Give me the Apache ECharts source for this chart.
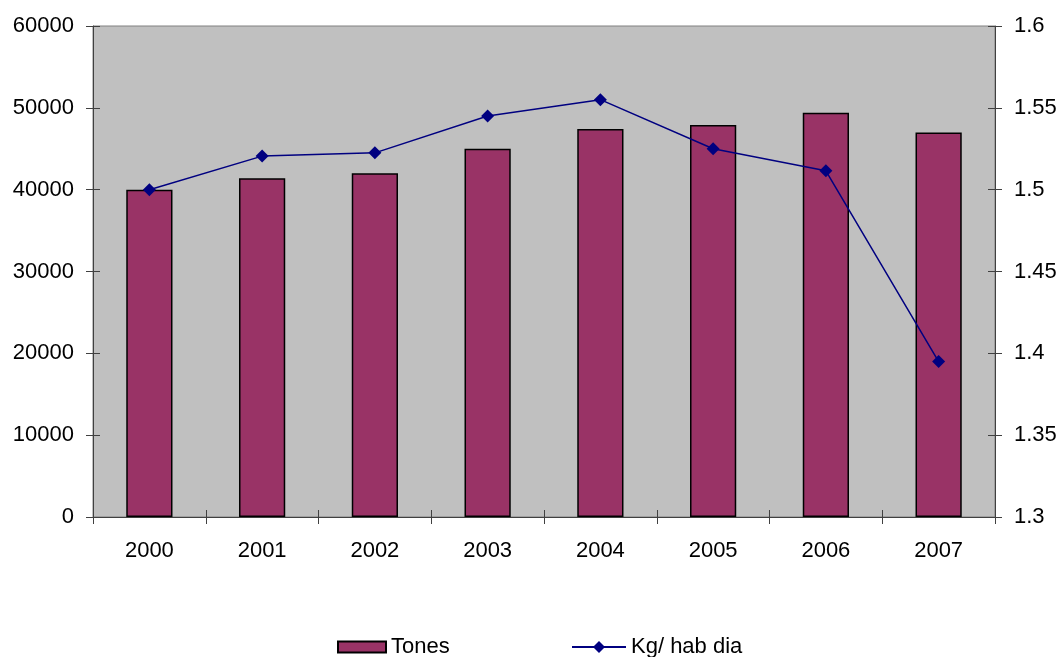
<!DOCTYPE html>
<html>
<head>
<meta charset="utf-8">
<script src="https://cdn.jsdelivr.net/npm/echarts@6/dist/echarts.min.js"></script>
<style>
  html, body { margin: 0; padding: 0; background: #ffffff; }
  #chart { width: 1061px; height: 657px; }
</style>
</head>
<body>
<div id="chart"></div>
<script>
// Yearly waste totals (tones) and per-capita daily amount (kg/hab/dia)
const years = ['2000', '2001', '2002', '2003', '2004', '2005', '2006', '2007'];
const tones = [40000, 41400, 42000, 45000, 47400, 47900, 49400, 47000];
const kgHabDia = [1.500, 1.5205, 1.5225, 1.545, 1.555, 1.525, 1.5115, 1.395];

const FONT = '"Liberation Sans", Arial, sans-serif';
const AXIS_COLOR = '#404040';
const labelStyle = { color: '#000', fontSize: 22, fontFamily: FONT };

const chart = echarts.init(document.getElementById('chart'), null, { renderer: 'canvas' });

chart.setOption({
  animation: false,
  backgroundColor: '#ffffff',
  textStyle: { fontFamily: FONT },
  grid: {
    left: 93, right: 66, top: 26, bottom: 140,
    show: true, backgroundColor: '#c0c0c0', borderColor: '#808080', borderWidth: 1
  },
  legend: [
    {
      data: [{ name: 'Tones', icon: 'rect' }], left: 332, top: 631,
      itemWidth: 48, itemHeight: 11, itemGap: 7,
      textStyle: { color: '#000', fontSize: 22, fontFamily: FONT }
    },
    {
      data: ['Kg/ hab dia'], left: 566, top: 631,
      itemWidth: 54, itemHeight: 15, itemGap: 2,
      textStyle: { color: '#000', fontSize: 22, fontFamily: FONT }
    }
  ],
  xAxis: [
    {
      type: 'category', data: years, position: 'bottom',
      boundaryGap: true,
      axisLine: { show: true, lineStyle: { color: AXIS_COLOR, width: 1 } },
      axisTick: { show: true, length: 7, lineStyle: { color: AXIS_COLOR } },
      axisLabel: Object.assign({ margin: 23 }, labelStyle),
      splitLine: { show: false }
    },
    {
      type: 'category', data: years, position: 'bottom',
      boundaryGap: true,
      axisLine: { show: false },
      axisTick: { show: true, inside: true, length: 7, lineStyle: { color: AXIS_COLOR } },
      axisLabel: { show: false },
      splitLine: { show: false }
    }
  ],
  yAxis: [
    {
      type: 'value', position: 'left', min: 0, max: 60000, interval: 10000,
      axisLine: { show: true, lineStyle: { color: AXIS_COLOR, width: 1 } },
      axisTick: { show: true, length: 7, lineStyle: { color: AXIS_COLOR } },
      axisLabel: Object.assign({ margin: 19, formatter: v => String(v) }, labelStyle),
      splitLine: { show: false }
    },
    {
      type: 'value', position: 'right', min: 1.3, max: 1.6, interval: 0.05,
      axisLine: { show: true, lineStyle: { color: AXIS_COLOR, width: 1 } },
      axisTick: { show: true, length: 7, lineStyle: { color: AXIS_COLOR } },
      axisLabel: Object.assign({ margin: 19, formatter: v => String(+v.toFixed(2)) }, labelStyle),
      splitLine: { show: false }
    },
    {
      type: 'value', position: 'left', min: 0, max: 60000, interval: 10000,
      axisLine: { show: false },
      axisTick: { show: true, inside: true, length: 7, lineStyle: { color: AXIS_COLOR } },
      axisLabel: { show: false },
      splitLine: { show: false }
    },
    {
      type: 'value', position: 'right', min: 1.3, max: 1.6, interval: 0.05,
      axisLine: { show: false },
      axisTick: { show: true, inside: true, length: 7, lineStyle: { color: AXIS_COLOR } },
      axisLabel: { show: false },
      splitLine: { show: false }
    }
  ],
  series: [
    {
      name: 'Tones', type: 'bar', data: tones,
      xAxisIndex: 0, yAxisIndex: 0,
      barWidth: '41%',
      itemStyle: { color: '#993366', borderColor: '#000000', borderWidth: 1.5 }
    },
    {
      name: 'Kg/ hab dia', type: 'line', data: kgHabDia,
      xAxisIndex: 0, yAxisIndex: 1,
      symbol: 'diamond', symbolSize: 13,
      lineStyle: { color: '#000080', width: 1.5 },
      itemStyle: { color: '#000080' }
    }
  ]
});
</script>
</body>
</html>
